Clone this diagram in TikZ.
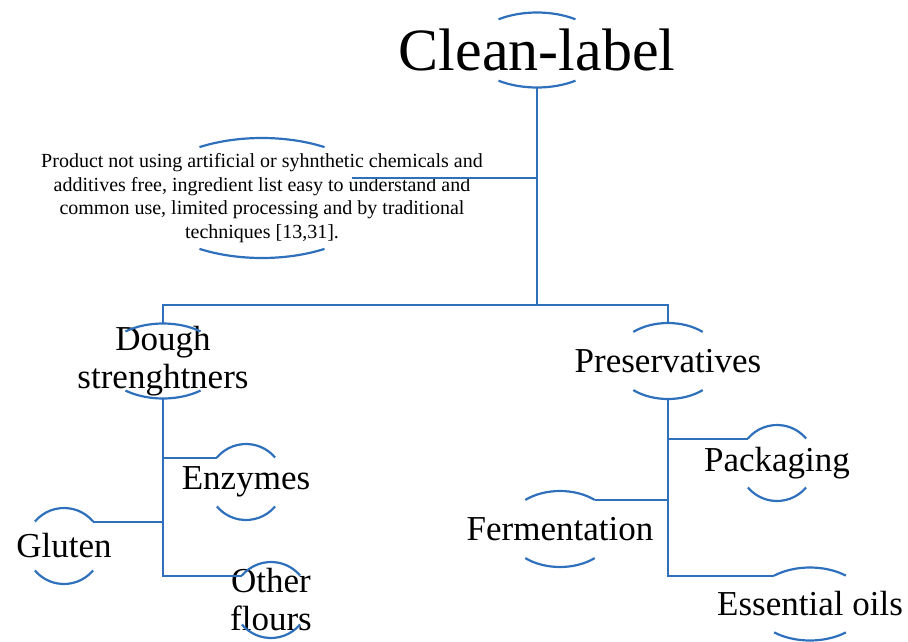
\documentclass[tikz,border=0pt]{standalone}
\usepackage{fontspec}
\setmainfont{Liberation Serif}
\usepackage{tikz}

\begin{document}
\begin{tikzpicture}[x=1pt,y=-1pt]
  \definecolor{c0}{RGB}{47,112,189}
  \tikzset{capline/.style={line width=2.2pt,c0},
    link/.style={line width=2.1pt,c0},
    lbl/.style={font=\fontsize{35}{38}\selectfont,align=center,inner sep=0pt}}
  \useasboundingbox (0,0) rectangle (908,642);
  % \capsarcs[angle]{node}{x radius}{y radius}
  \newcommand{\capsarcs}[4][50]{%
    \draw[capline] ([shift={(180+#1:#3 and #4)}]#2.center) arc[start angle=180+#1,end angle=360-#1,x radius=#3,y radius=#4];
    \draw[capline] ([shift={(#1:#3 and #4)}]#2.center) arc[start angle=#1,end angle=180-#1,x radius=#3,y radius=#4];
    \coordinate (#2-t) at ([shift={(0,-#4)}]#2.center);
    \coordinate (#2-b) at ([shift={(0,#4)}]#2.center);
    \coordinate (#2-tl) at ([shift={(180+#1:#3 and #4)}]#2.center);
    \coordinate (#2-tr) at ([shift={(-#1:#3 and #4)}]#2.center);}

  % the labels
  \node[inner sep=0pt,font=\fontsize{60}{60}\selectfont] (clean) at (537,50) {Clean-label};
  \node[inner sep=0pt,align=center,font=\fontsize{20}{23.5}\selectfont] (desc) at (262,198)
    {Product not using artificial or syhnthetic chemicals and\\
     additives free, ingredient list easy to understand and\\
     common use, limited processing and by traditional\\
     techniques [13,31].};
  \node[lbl] (dough) at (163,361) {Dough\\strenghtners};
  \node[lbl] (pres) at (668,361) {Preservatives};
  \node[lbl] (enz) at (246,482) {Enzymes};
  \node[lbl] (glu) at (64,546) {Gluten};
  \node[lbl] (oth) at (271,600) {Other\\flours};
  \node[lbl] (pack) at (777,463) {Packaging};
  \node[lbl] (ferm) at (560,529) {Fermentation};
  \node[lbl] (oil) at (810,604) {Essential oils};

  % arcs above and below each label
  \capsarcs[55]{clean}{67}{37.5}
  \capsarcs[58]{desc}{118}{60}
  \capsarcs[52]{dough}{61}{37.5}
  \capsarcs{pres}{54}{38}
  \capsarcs{ferm}{54}{38}
  \capsarcs[51]{oil}{57}{36.5}
  \foreach \n in {enz,glu,oth,pack} {\capsarcs[40]{\n}{38}{38}}

  % connectors
  \coordinate (bus) at (537,305);
  \coordinate (desc-end) at (352,178);
  \draw[link] (clean-b) -- (bus);
  \draw[link] (clean-b) |- (desc-end);
  \draw[link] (dough-t) |- (bus) -| (pres-t);
  \foreach \n in {enz-tl,glu-tr,oth-tl} \draw[link] (dough-b) |- (\n);
  \foreach \n in {pack-tl,ferm-tr,oil-tl} \draw[link] (pres-b) |- (\n);
\end{tikzpicture}
\end{document}
